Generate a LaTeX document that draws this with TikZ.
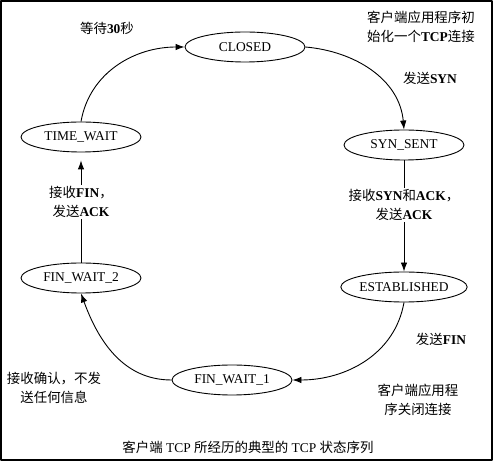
\documentclass[tikz,border=0pt]{standalone}
\usepackage{fontspec}
\setmainfont{Liberation Serif}
\newfontfamily\cjk{Noto Sans CJK SC}
\newcommand{\zh}[1]{{\cjk #1}}
\usetikzlibrary{arrows.meta,shapes.geometric}
\begin{document}
\begin{tikzpicture}[>={Latex[length=9bp,width=6.5bp]},line join=bevel,line width=0.9bp,
  font=\fontsize{13.5}{19}\selectfont,
  state/.style={draw,ellipse,minimum width=120bp,minimum height=30bp,inner sep=0pt},
  note/.style={align=center,inner sep=1pt}]
\useasboundingbox (0bp,0bp) rectangle (494bp,462bp);
\draw [line width=1.2bp] (1bp,2bp) rectangle (492bp,461bp);
%%
\node (closed) at (245bp,415bp) [state] {CLOSED};
  \node (synsent) at (404bp,317bp) [state] {SYN\_SENT};
  \node (estab) at (404bp,175bp) [state] {ESTABLISHED};
  \node (finwait1) at (232bp,82bp) [state] {FIN\_WAIT\_1};
  \node (finwait2) at (81bp,184bp) [state] {FIN\_WAIT\_2};
  \node (timewait) at (81bp,325bp) [state] {TIME\_WAIT};
%% free labels
  \node (wait) at (107bp,434bp) [note] {\zh{等待}\textbf{30}\zh{秒}};
  \node (init) at (421bp,435bp) [note] {\zh{客户端应用程序初}\\\zh{始化一个}\textbf{TCP}\zh{连接}};
  \node (syn) at (430bp,384bp) [note] {\zh{发送}\textbf{SYN}};
  \node (fin) at (441bp,123bp) [note] {\zh{发送}\textbf{FIN}};
  \node (ack) at (54bp,74bp) [note] {\zh{接收确认，不发}\\\zh{送任何信息}};
  \node (close) at (418bp,62bp) [note] {\zh{客户端应用程}\\\zh{序关闭连接}};
  \node (caption) at (248bp,15bp) [note] {\zh{客户端} TCP \zh{所经历的典型的} TCP \zh{状态序列}};
%%
  \draw [->] (timewait.north) to[out=80,in=180] (closed.west);
  \draw [->] (closed.east) to[out=-5,in=95] (synsent.north);
  \draw [->] (synsent) -- node[note,fill=white,pos=0.4] {\zh{接收}\textbf{SYN}\zh{和}\textbf{ACK}\zh{，}\\\zh{发送}\textbf{ACK}} (estab);
  \draw [->] (estab.south) to[out=-100,in=0] (finwait1.east);
  \draw [->] (finwait1.west) to[out=180,in=-70] (finwait2.south);
  \draw [->,shorten >=8bp] (finwait2) -- node[note,fill=white,pos=0.55] {\zh{接收}\textbf{FIN}\zh{，}\\\zh{发送}\textbf{ACK}} (timewait);
%
\end{tikzpicture}
\end{document}
